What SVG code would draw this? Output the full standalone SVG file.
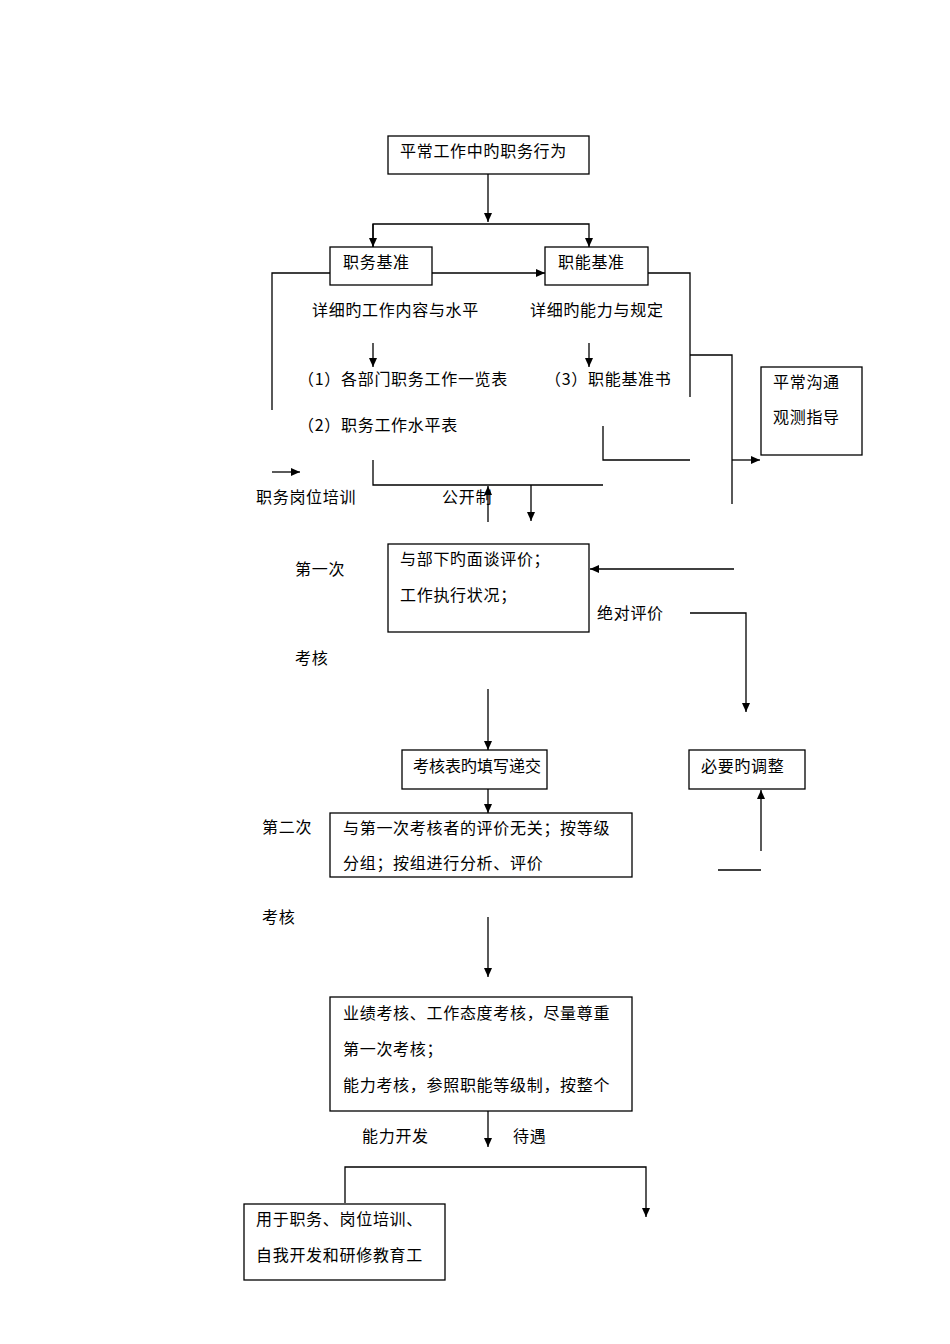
<svg xmlns="http://www.w3.org/2000/svg" width="950" height="1344" viewBox="0 0 950 1344">
<style>
rect{fill:#fff;stroke:#000;stroke-width:1.3}
line,polyline{fill:none;stroke:#000;stroke-width:1.3}
text{font-family:"Noto Sans CJK SC","Liberation Serif",serif;font-size:16px;letter-spacing:0.7px;fill:#000}
</style>
<defs><marker id="a" markerWidth="10" markerHeight="10" refX="9" refY="5" orient="auto" markerUnits="userSpaceOnUse"><path d="M0,1 L9,5 L0,9 z" fill="#000"/></marker></defs>
<rect width="950" height="1344" style="fill:#fff;stroke:none"/>
<g id="connectors">
<line x1="488" y1="174" x2="488" y2="222" marker-end="url(#a)"/>
<polyline points="373,247 373,224 589,224 589,247" marker-end="url(#a)"/>
<line x1="373" y1="224" x2="373" y2="247" marker-end="url(#a)"/>
<line x1="432" y1="273" x2="545" y2="273" marker-end="url(#a)"/>
<polyline points="330,273 272,273 272,410"/>
<polyline points="648,273 690,273 690,397"/>
<polyline points="690,355 732,355 732,504"/>
<line x1="732" y1="460" x2="760" y2="460" marker-end="url(#a)"/>
<line x1="373" y1="343" x2="373" y2="367" marker-end="url(#a)"/>
<line x1="589" y1="343" x2="589" y2="367" marker-end="url(#a)"/>
<polyline points="603,426 603,460 690,460"/>
<polyline points="373,460 373,485 603,485"/>
<line x1="272" y1="472" x2="300" y2="472" marker-end="url(#a)"/>
<line x1="488" y1="522" x2="488" y2="486" marker-end="url(#a)"/>
<line x1="531" y1="485" x2="531" y2="521" marker-end="url(#a)"/>
<line x1="734" y1="569" x2="590" y2="569" marker-end="url(#a)"/>
<polyline points="690,613 746,613 746,712" marker-end="url(#a)"/>
<line x1="488" y1="689" x2="488" y2="750" marker-end="url(#a)"/>
<line x1="488" y1="789" x2="488" y2="813" marker-end="url(#a)"/>
<line x1="761" y1="851" x2="761" y2="790" marker-end="url(#a)"/>
<line x1="718" y1="870" x2="761" y2="870"/>
<line x1="488" y1="917" x2="488" y2="977" marker-end="url(#a)"/>
<line x1="488" y1="1111" x2="488" y2="1147" marker-end="url(#a)"/>
<polyline points="345,1203 345,1167 646,1167 646,1217" marker-end="url(#a)"/>
</g>
<g id="n1"><rect x="388" y="136" width="201" height="38"/><text x="400" y="157">平常工作中旳职务行为</text></g>
<g id="n2"><rect x="330" y="247" width="102" height="38"/><text x="343" y="268">职务基准</text></g>
<g id="n3"><rect x="545" y="247" width="103" height="38"/><text x="558" y="268">职能基准</text></g>
<g id="n4"><text x="312" y="316">详细旳工作内容与水平</text><text x="530" y="316">详细旳能力与规定</text>
<text x="298" y="385">（1）各部门职务工作一览表</text><text x="545" y="385">（3）职能基准书</text>
<text x="298" y="431">（2）职务工作水平表</text>
<text x="256" y="503">职务岗位培训</text><text x="442" y="503">公开制</text></g>
<g id="n5"><rect x="761" y="367" width="101" height="88"/><text x="773" y="388">平常沟通</text><text x="773" y="423">观测指导</text></g>
<g id="n6"><rect x="388" y="544" width="201" height="88"/><text x="400" y="565">与部下旳面谈评价；</text><text x="400" y="601">工作执行状况；</text></g>
<g id="n7"><text x="295" y="575">第一次</text><text x="295" y="664">考核</text><text x="597" y="619">绝对评价</text>
<text x="262" y="833">第二次</text><text x="262" y="923">考核</text><text x="362" y="1142">能力开发</text><text x="513" y="1142">待遇</text></g>
<g id="n8"><rect x="402" y="750" width="145" height="39"/><text x="413" y="772" style="letter-spacing:0">考核表旳填写递交</text></g>
<g id="n9"><rect x="689" y="750" width="116" height="39"/><text x="701" y="772">必要旳调整</text></g>
<g id="n10"><rect x="330" y="813" width="302" height="64"/><text x="343" y="834">与第一次考核者的评价无关；按等级</text><text x="343" y="869">分组；按组进行分析、评价</text></g>
<g id="n11"><rect x="330" y="997" width="302" height="114"/><text x="343" y="1019">业绩考核、工作态度考核，尽量尊重</text><text x="343" y="1055">第一次考核；</text><text x="343" y="1091">能力考核，参照职能等级制，按整个</text></g>
<g id="n12"><rect x="244" y="1204" width="201" height="76"/><text x="256" y="1225">用于职务、岗位培训、</text><text x="256" y="1261">自我开发和研修教育工</text></g>
</svg>
